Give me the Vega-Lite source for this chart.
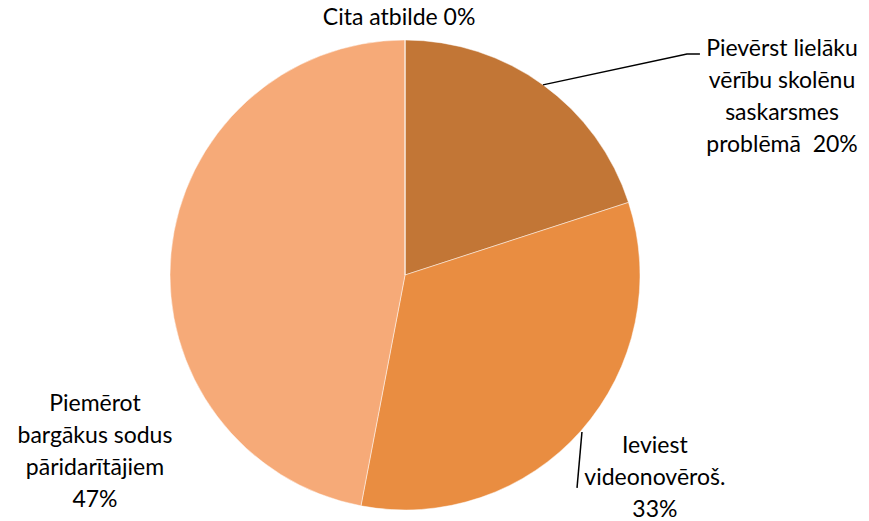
{
  "$schema": "https://vega.github.io/schema/vega-lite/v6.json",
  "width": 810,
  "height": 492,
  "padding": {"left": 0, "top": 29, "right": 59, "bottom": 0},
  "autosize": {"type": "none"},
  "background": "white",
  "config": {"view": {"stroke": null}, "text": {"font": "Lato", "fontSize": 23, "lineHeight": 32, "color": "#000000"}},
  "datasets": {
    "slices": [
      {"k": "a", "o": 1, "v": 20, "lbl": ["Pievērst lielāku", "vērību skolēnu", "saskarsmes", "problēmā\u00a0 20%"]},
      {"k": "b", "o": 2, "v": 33, "lbl": ["Ieviest", "videonovēroš.", "33%"]},
      {"k": "c", "o": 3, "v": 47, "lbl": ["Piemērot", "bargākus sodus", "pāridarītājiem", "47%"]},
      {"k": "d", "o": 4, "v": 0, "lbl": ["Cita atbilde 0%"]}
    ],
    "leaders": [
      {"g": "a", "i": 1, "x": 0.587, "y": 0.809},
      {"g": "a", "i": 2, "x": 1.2, "y": 0.94},
      {"g": "a", "i": 3, "x": 1.255, "y": 0.94},
      {"g": "b", "i": 1, "x": 0.753, "y": -0.668},
      {"g": "b", "i": 2, "x": 0.732, "y": -0.906}
    ]
  },
  "layer": [
    {
      "data": {"name": "slices"},
      "mark": {"type": "arc", "outerRadius": 235, "stroke": "#ffffff", "strokeWidth": 0.8, "strokeOpacity": 0.6},
      "encoding": {
        "theta": {"field": "v", "type": "quantitative", "stack": true},
        "order": {"field": "o", "type": "quantitative"},
        "color": {"field": "k", "type": "nominal", "legend": null,
          "scale": {"domain": ["a", "b", "c", "d"], "range": ["#C27636", "#E98D41", "#F6AA78", "#9E5A23"]}}
      }
    },
    {
      "data": {"name": "slices"},
      "mark": {"type": "text", "radius": 417, "thetaOffset": 0.501, "align": "center", "baseline": "middle", "dy": -48},
      "encoding": {
        "theta": {"field": "v", "type": "quantitative", "stack": true},
        "order": {"field": "o", "type": "quantitative"},
        "detail": {"field": "k", "type": "nominal"},
        "text": {"condition": {"test": "datum.k === 'a'", "field": "lbl"}, "value": ""}
      }
    },
    {
      "data": {"name": "slices"},
      "mark": {"type": "text", "radius": 322, "thetaOffset": -0.04, "align": "center", "baseline": "middle", "dy": -32},
      "encoding": {
        "theta": {"field": "v", "type": "quantitative", "stack": true},
        "order": {"field": "o", "type": "quantitative"},
        "detail": {"field": "k", "type": "nominal"},
        "text": {"condition": {"test": "datum.k === 'b'", "field": "lbl"}, "value": ""}
      }
    },
    {
      "data": {"name": "slices"},
      "mark": {"type": "text", "radius": 357, "thetaOffset": -0.613, "align": "center", "baseline": "middle", "dy": -48},
      "encoding": {
        "theta": {"field": "v", "type": "quantitative", "stack": true},
        "order": {"field": "o", "type": "quantitative"},
        "detail": {"field": "k", "type": "nominal"},
        "text": {"condition": {"test": "datum.k === 'c'", "field": "lbl"}, "value": ""}
      }
    },
    {
      "data": {"name": "slices"},
      "mark": {"type": "text", "radius": 257, "thetaOffset": -0.023, "align": "center", "baseline": "middle"},
      "encoding": {
        "theta": {"field": "v", "type": "quantitative", "stack": true},
        "order": {"field": "o", "type": "quantitative"},
        "detail": {"field": "k", "type": "nominal"},
        "text": {"condition": {"test": "datum.k === 'd'", "field": "lbl"}, "value": ""}
      }
    },
    {
      "data": {"name": "leaders"},
      "mark": {"type": "line", "color": "#000000", "strokeWidth": 1.5},
      "encoding": {
        "x": {"field": "x", "type": "quantitative", "axis": null, "scale": {"domain": [-1.7234, 1.7234], "nice": false, "zero": false}},
        "y": {"field": "y", "type": "quantitative", "axis": null, "scale": {"domain": [-1.0468, 1.0468], "nice": false, "zero": false}},
        "detail": {"field": "g", "type": "nominal"},
        "order": {"field": "i", "type": "quantitative"}
      }
    }
  ]
}
